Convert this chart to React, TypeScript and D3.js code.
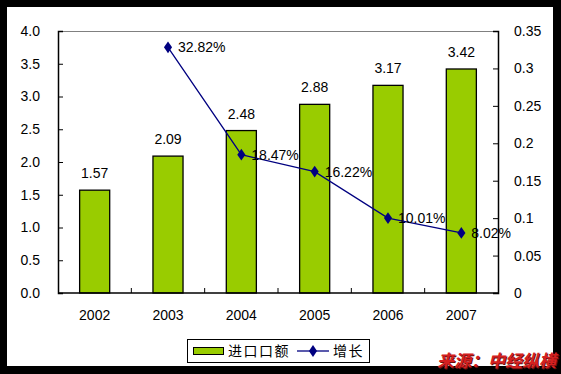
import { useRef, useEffect } from "react";
import * as d3 from "d3";

const years = ["2002", "2003", "2004", "2005", "2006", "2007"];
const importValues = [1.57, 2.09, 2.48, 2.88, 3.17, 3.42];
const growthYears = ["2003", "2004", "2005", "2006", "2007"];
const growthValues = [0.3282, 0.1847, 0.1622, 0.1001, 0.0802];
const growthLabels = ["32.82%", "18.47%", "16.22%", "10.01%", "8.02%"];
const leftTicks = [0, 0.5, 1, 1.5, 2, 2.5, 3, 3.5, 4];
const rightTicks = [0, 0.05, 0.1, 0.15, 0.2, 0.25, 0.3, 0.35];
const legendBar = "进口口额";
const legendLine = "增长";
const sourceText = "来源：中经纵横";

const W = 561;
const H = 374;
const FONT = "'Liberation Sans', Arial, sans-serif";
const CJK = "'Noto Sans CJK SC', sans-serif";

export default function App() {
  const ref = useRef<SVGSVGElement>(null);

  useEffect(() => {
    if (!ref.current) return;
    const svg = d3.select(ref.current);
    svg.selectAll("*").remove();

    // black frame, white card
    svg.append("rect").attr("width", W).attr("height", H).attr("fill", "#000");
    svg.append("rect").attr("x", 7).attr("y", 7).attr("width", 546).attr("height", 359).attr("fill", "#fff");

    const left = 58;
    const right = 498;
    const top = 31;
    const bottom = 293;

    const x = d3.scaleBand().domain(years).range([left, right]).paddingInner(0).paddingOuter(0);
    const yL = d3.scaleLinear().domain([0, 4]).range([bottom, top]);
    const yR = d3.scaleLinear().domain([0, 0.35]).range([bottom, top]);
    const barW = x.bandwidth() * 0.41;

    // top border of plot
    svg.append("line").attr("x1", left).attr("x2", right).attr("y1", top + 0.5).attr("y2", top + 0.5)
      .attr("stroke", "#808080").attr("stroke-width", 1);

    // bars
    svg.append("g").selectAll("rect").data(importValues).join("rect")
      .attr("x", (_, i) => (x(years[i]) as number) + x.bandwidth() / 2 - barW / 2)
      .attr("y", (d) => yL(d))
      .attr("width", barW)
      .attr("height", (d) => bottom - yL(d))
      .attr("fill", "#99CC00")
      .attr("stroke", "#000")
      .attr("stroke-width", 1.3);

    svg.append("g").selectAll("text").data(importValues).join("text")
      .attr("x", (_, i) => (x(years[i]) as number) + x.bandwidth() / 2)
      .attr("y", (d) => yL(d) - 12)
      .attr("text-anchor", "middle")
      .attr("font-family", FONT).attr("font-size", 14).attr("fill", "#000")
      .text((d) => d.toFixed(2));

    // left axis
    const gL = svg.append("g").attr("transform", `translate(${left},0)`)
      .call(d3.axisLeft(yL).tickValues(leftTicks).tickSize(-5).tickPadding(18).tickFormat(d3.format(".1f")));
    gL.select(".domain").attr("stroke", "#000").attr("stroke-width", 1.5);
    gL.selectAll(".tick line").attr("stroke", "#000");
    gL.selectAll("text").attr("font-family", FONT).attr("font-size", 14).attr("fill", "#000");

    // right axis
    const gR = svg.append("g").attr("transform", `translate(${right},0)`)
      .call(d3.axisRight(yR).tickValues(rightTicks).tickSize(-5).tickPadding(16).tickFormat((d) => String(+(+d).toFixed(2))));
    gR.select(".domain").attr("stroke", "#000").attr("stroke-width", 1.5);
    gR.selectAll(".tick line").attr("stroke", "#000");
    gR.selectAll("text").attr("font-family", FONT).attr("font-size", 14).attr("fill", "#000");

    // bottom axis
    const ticksX = years.slice(1).map((y) => x(y) as number);
    svg.append("line").attr("x1", left).attr("x2", right).attr("y1", bottom).attr("y2", bottom)
      .attr("stroke", "#000").attr("stroke-width", 1.5);
    svg.append("g").selectAll("line").data(ticksX).join("line")
      .attr("x1", (d) => d).attr("x2", (d) => d).attr("y1", bottom).attr("y2", bottom - 5)
      .attr("stroke", "#000");
    svg.append("g").selectAll("text").data(years).join("text")
      .attr("x", (d) => (x(d) as number) + x.bandwidth() / 2)
      .attr("y", 320)
      .attr("text-anchor", "middle")
      .attr("font-family", FONT).attr("font-size", 14).attr("fill", "#000")
      .text((d) => d);

    // growth line
    const cx = (i: number) => (x(growthYears[i]) as number) + x.bandwidth() / 2;
    const line = d3.line<number>().x((_, i) => cx(i)).y((d) => yR(d));
    svg.append("path").datum(growthValues).attr("d", line)
      .attr("fill", "none").attr("stroke", "#000080").attr("stroke-width", 1.3);
    const diamond = d3.symbol().type(d3.symbolDiamond).size(40);
    svg.append("g").selectAll("path").data(growthValues).join("path")
      .attr("d", diamond)
      .attr("transform", (d, i) => `translate(${cx(i)},${yR(d)}) scale(1.2,1)`)
      .attr("fill", "#000080");
    svg.append("g").selectAll("text").data(growthValues).join("text")
      .attr("x", (_, i) => cx(i) + 10)
      .attr("y", (d) => yR(d) + 5)
      .attr("font-family", FONT).attr("font-size", 14).attr("fill", "#000")
      .text((_, i) => growthLabels[i]);

    // legend
    const lg = svg.append("g");
    lg.append("rect").attr("x", 187.5).attr("y", 339.5).attr("width", 182).attr("height", 23)
      .attr("fill", "#fff").attr("stroke", "#000").attr("stroke-width", 1);
    lg.append("rect").attr("x", 193.5).attr("y", 347.5).attr("width", 30).attr("height", 7)
      .attr("fill", "#99CC00").attr("stroke", "#000").attr("stroke-width", 1);
    lg.append("text").attr("x", 228).attr("y", 356).attr("font-family", CJK).attr("font-size", 14)
      .attr("letter-spacing", 1.5).attr("fill", "#000").text(legendBar);
    lg.append("line").attr("x1", 297).attr("x2", 329).attr("y1", 351).attr("y2", 351)
      .attr("stroke", "#000080").attr("stroke-width", 1.3);
    lg.append("path").attr("d", diamond).attr("transform", "translate(313,351) scale(1.2,1)").attr("fill", "#000080");
    lg.append("text").attr("x", 333).attr("y", 356).attr("font-family", CJK).attr("font-size", 14)
      .attr("letter-spacing", 1.5).attr("fill", "#000").text(legendLine);

    // source note with shadow
    svg.append("text").attr("x", 438).attr("y", 368)
      .attr("font-family", CJK).attr("font-size", 17).attr("font-weight", 600).attr("font-style", "italic")
      .attr("fill", "#6a1010").text(sourceText);
    svg.append("text").attr("x", 437).attr("y", 367)
      .attr("font-family", CJK).attr("font-size", 17).attr("font-weight", 600).attr("font-style", "italic")
      .attr("fill", "#d42020").text(sourceText);
  }, []);

  return <svg ref={ref} width={W} height={H} style={{ display: "block", position: "absolute", left: 0, top: 0 }} />;
}
